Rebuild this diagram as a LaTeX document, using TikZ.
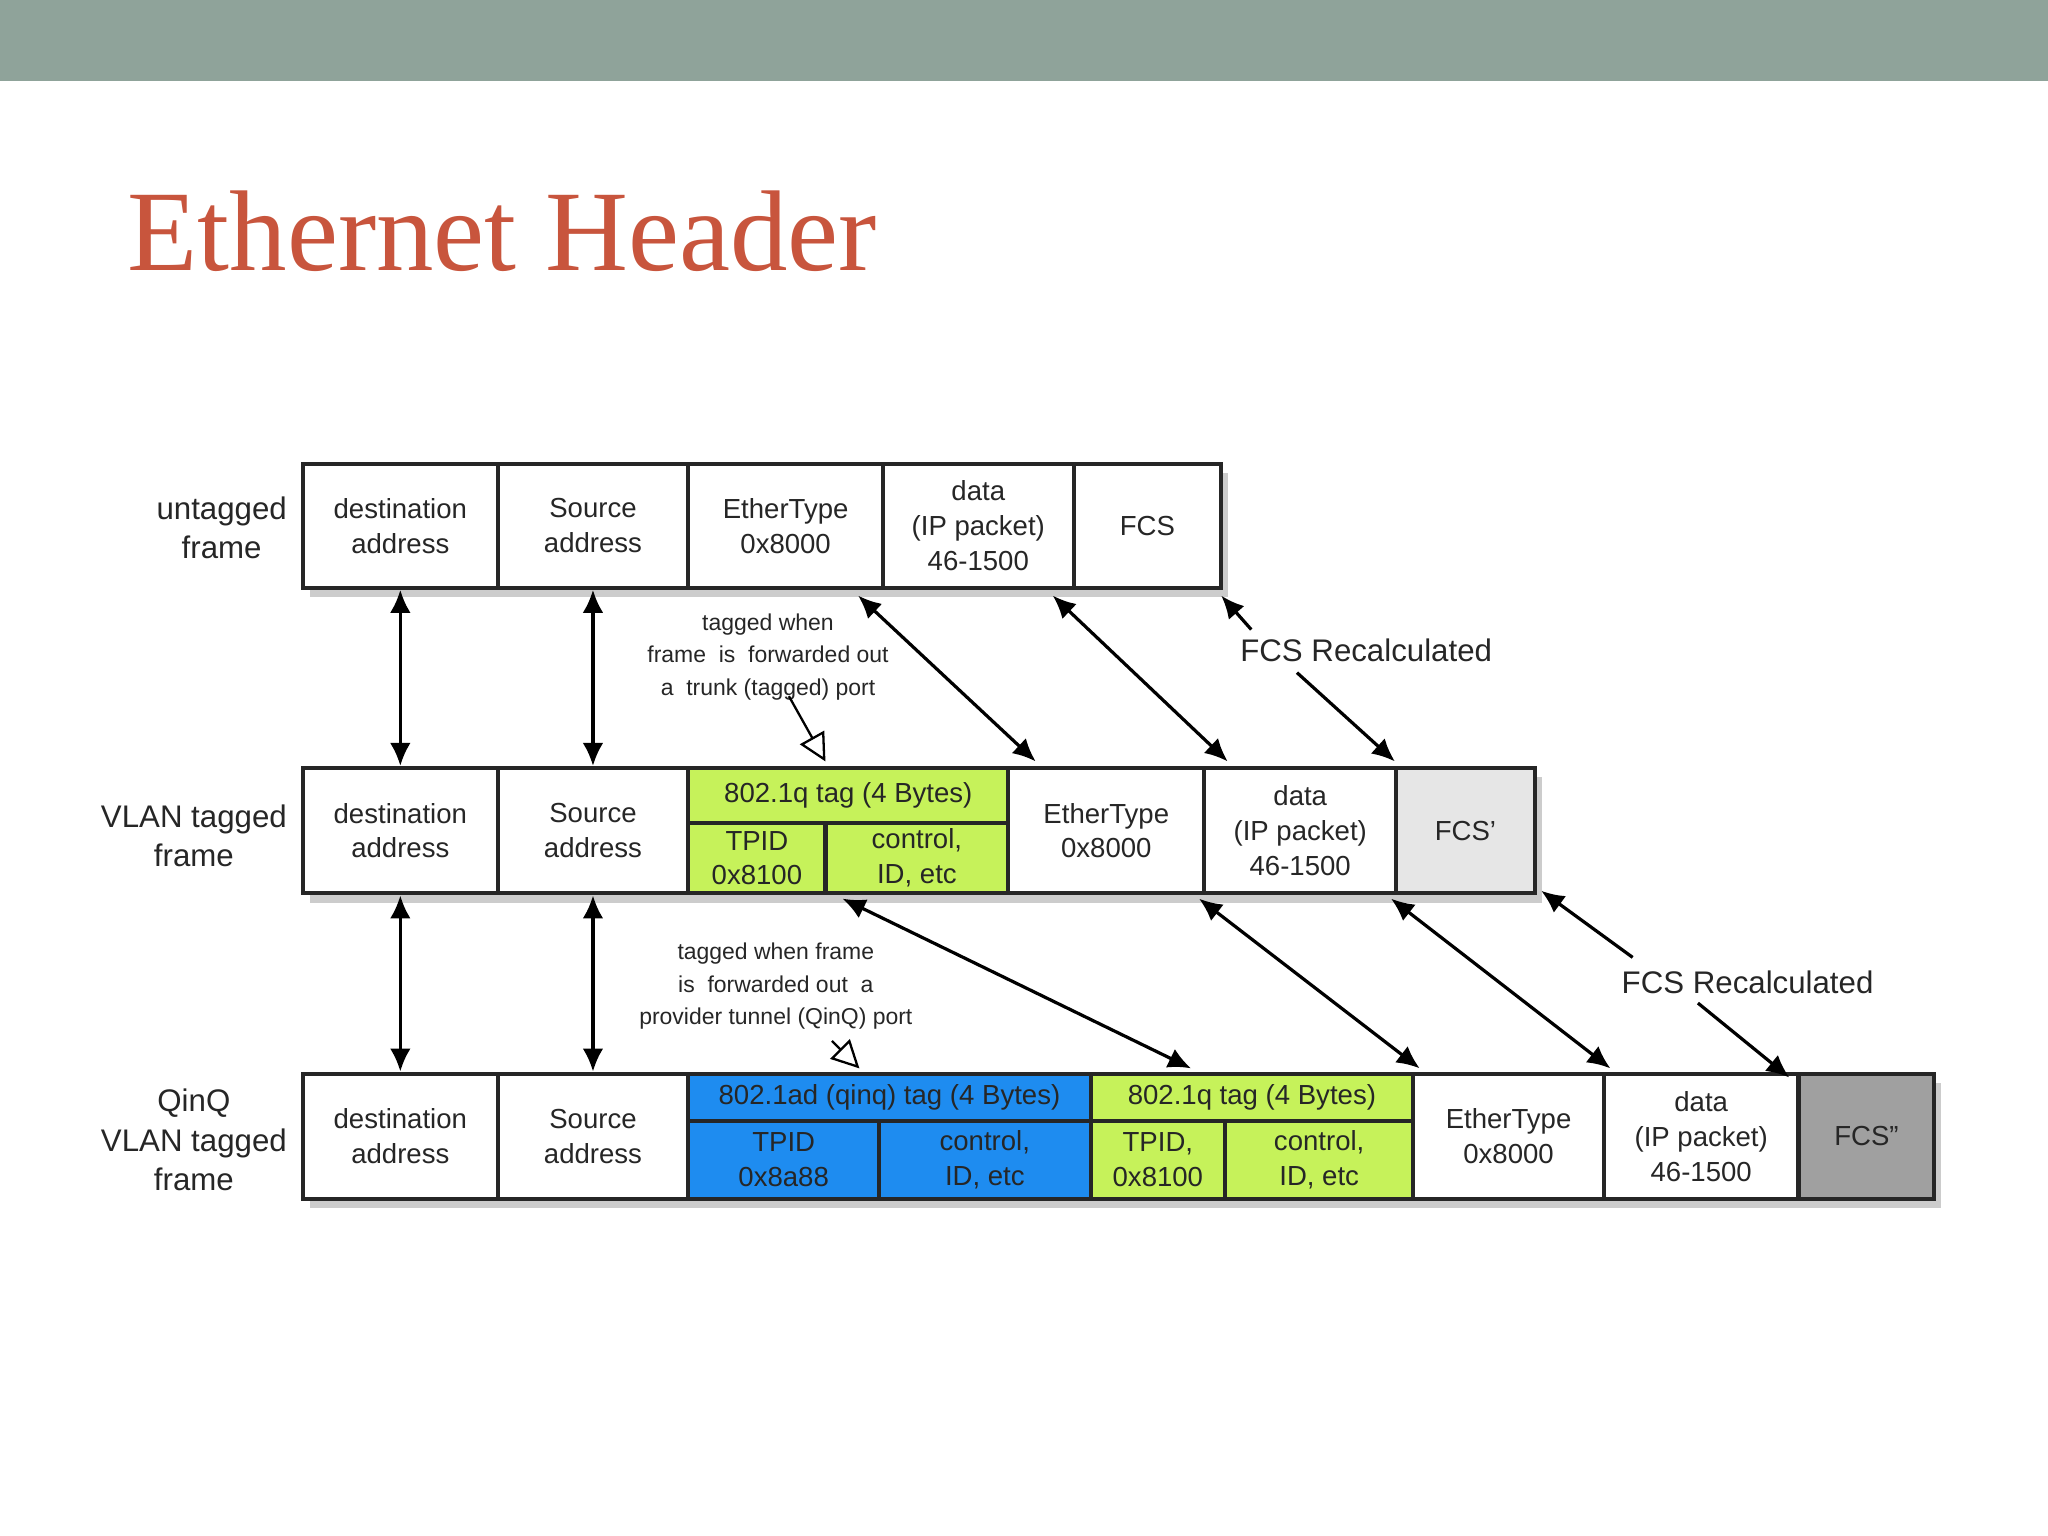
\documentclass[tikz,border=0pt]{standalone}
\usepackage{fontspec}
\setmainfont{Liberation Sans}
\newfontfamily\titlefont{Liberation Serif}
\usetikzlibrary{fit,arrows.meta,shadows}
\definecolor{band}{HTML}{8FA39A}
\definecolor{ttl}{HTML}{C8553D}
\definecolor{lgreen}{HTML}{C6F25A}
\definecolor{qblue}{HTML}{1E8CF0}
\definecolor{fcsa}{HTML}{E6E6E6}
\definecolor{fcsb}{HTML}{A0A0A0}
\tikzset{
 cellst/.style={draw=black!85,line width=0.9pt,inner sep=0pt},
 txt/.style={align=center,font=\fontsize{6}{7.6}\selectfont,text=black!85},
 lab/.style={align=center,font=\fontsize{6.8}{8.6}\selectfont,text=black!85},
 small/.style={align=center,font=\fontsize{5}{7}\selectfont,text=black!85},
 dbl/.style={{Latex[length=5pt,width=4.5pt]}-{Latex[length=5pt,width=4.5pt]},line width=0.7pt},
 sgl/.style={-{Latex[length=5pt,width=4.5pt]},line width=0.7pt},
 hol/.style={-{Triangle[open,length=6pt,width=6pt]},line width=0.5pt},
 rowsh/.style={fill=white,drop shadow={shadow xshift=1.5pt,shadow yshift=-2pt,opacity=0.4}}
}
\newcommand\cellbox[7]{\path (#2,#3) coordinate (#1a) (#4,#5) coordinate (#1b);
 \node[cellst,fill=#6,fit=(#1a)(#1b)] (#1) {};
 \node[txt] (#1t) at (#1.center) {#7};}
\begin{document}
\begin{tikzpicture}[x=0.01cm,y=-0.01cm]
\useasboundingbox (0,0) rectangle (1568,1176);
\fill[band] (0,0) rectangle (1568,62);
\node[anchor=base west,text=ttl,inner sep=0pt,font=\titlefont\fontsize{25}{30}\selectfont] (title) at (97,207) {Ethernet Header};
\fill[rowsh] (232,355) rectangle (935,450);
\fill[rowsh] (232,588) rectangle (1175,684);
\fill[rowsh] (232,822) rectangle (1481,918);
% row 1
\cellbox{a1}{232}{355}{381}{450}{white}{destination\\address}
\cellbox{a2}{381}{355}{527}{450}{white}{Source\\address}
\cellbox{a3}{527}{355}{676}{450}{white}{EtherType\\0x8000}
\cellbox{a4}{676}{355}{822}{450}{white}{data\\(IP packet)\\46-1500}
\cellbox{a5}{822}{355}{935}{450}{white}{FCS}
% row 2
\cellbox{b1}{232}{588}{381}{684}{white}{destination\\address}
\cellbox{b2}{381}{588}{527}{684}{white}{Source\\address}
\cellbox{b3}{527}{588}{772}{630}{lgreen}{802.1q tag (4 Bytes)}
\cellbox{b3a}{527}{630}{632}{684}{lgreen}{TPID\\0x8100}
\cellbox{b3b}{632}{630}{772}{684}{lgreen}{control,\\ID, etc}
\cellbox{b4}{772}{588}{922}{684}{white}{EtherType\\0x8000}
\cellbox{b5}{922}{588}{1069}{684}{white}{data\\(IP packet)\\46-1500}
\cellbox{b6}{1069}{588}{1175}{684}{fcsa}{FCS'}
% row 3
\cellbox{c1}{232}{822}{381}{918}{white}{destination\\address}
\cellbox{c2}{381}{822}{527}{918}{white}{Source\\address}
\cellbox{c3}{527}{822}{835}{858}{qblue}{802.1ad (qinq) tag (4 Bytes)}
\cellbox{c3a}{527}{858}{673}{918}{qblue}{TPID\\0x8a88}
\cellbox{c3b}{673}{858}{835}{918}{qblue}{control,\\ID, etc}
\cellbox{c4}{835}{822}{1082}{858}{lgreen}{802.1q tag (4 Bytes)}
\cellbox{c4a}{835}{858}{938}{918}{lgreen}{TPID,\\0x8100}
\cellbox{c4b}{938}{858}{1082}{918}{lgreen}{control,\\ID, etc}
\cellbox{c5}{1082}{822}{1228}{918}{white}{EtherType\\0x8000}
\cellbox{c6}{1228}{822}{1377}{918}{white}{data\\(IP packet)\\46-1500}
\cellbox{c7}{1377}{822}{1481}{918}{fcsb}{FCS''}
% row labels
\node[lab,anchor=east] (l1) at (232,404) {untagged\\frame};
\node[lab,anchor=east] (l2) at (232,640) {VLAN tagged\\frame};
\node[lab,anchor=east] (l3) at (232,873) {QinQ\\VLAN tagged\\frame};
\draw[dbl] (a1.south) -- (b1.north);
\draw[dbl] (a2.south) -- (b2.north);
\draw[dbl] (b1.south) -- (c1.north);
\draw[dbl] (b2.south) -- (c2.north);
\node[small] (n1) at (588,503) {tagged when\\frame\ \ is\ \ forwarded out\\a\ \ trunk (tagged) port};
\node[small] (n2) at (594,755) {tagged when frame\\is\ \ forwarded out\ \ a\\provider tunnel (QinQ) port};
\coordinate (h1) at (604,533); \coordinate (h1e) at (632,583);
\draw[hol] (h1) -- (h1e);
\coordinate (h2) at (637,797); \coordinate (h2e) at (658,818);
\draw[hol] (h2) -- (h2e);
\coordinate (d1s) at (657,456); \coordinate (d1e) at (793,583);
\coordinate (d2s) at (806,456); \coordinate (d2e) at (940,583);
\draw[dbl] (d1s) -- (d1e);
\draw[dbl] (d2s) -- (d2e);
\node[lab] (r1) at (1046,498) {FCS Recalculated};
\coordinate (r1a) at (958,482); \coordinate (f1) at (935,456);
\coordinate (r1b) at (993,515); \coordinate (f1e) at (1068,583);
\draw[sgl] (r1a) -- (f1);
\draw[sgl] (r1b) -- (f1e);
\coordinate (e1s) at (645,688); \coordinate (e1e) at (912,818);
\coordinate (e2s) at (918,688); \coordinate (e2e) at (1087,818);
\coordinate (e3s) at (1065,688); \coordinate (e3e) at (1233,818);
\draw[dbl] (e1s) -- (e1e);
\draw[dbl] (e2s) -- (e2e);
\draw[dbl] (e3s) -- (e3e);
\node[lab] (r2) at (1338,752) {FCS Recalculated};
\coordinate (r2a) at (1250,733); \coordinate (f2) at (1180,682);
\coordinate (r2b) at (1300,768); \coordinate (f2e) at (1370,825);
\draw[sgl] (r2a) -- (f2);
\draw[sgl] (r2b) -- (f2e);
\end{tikzpicture}
\end{document}
